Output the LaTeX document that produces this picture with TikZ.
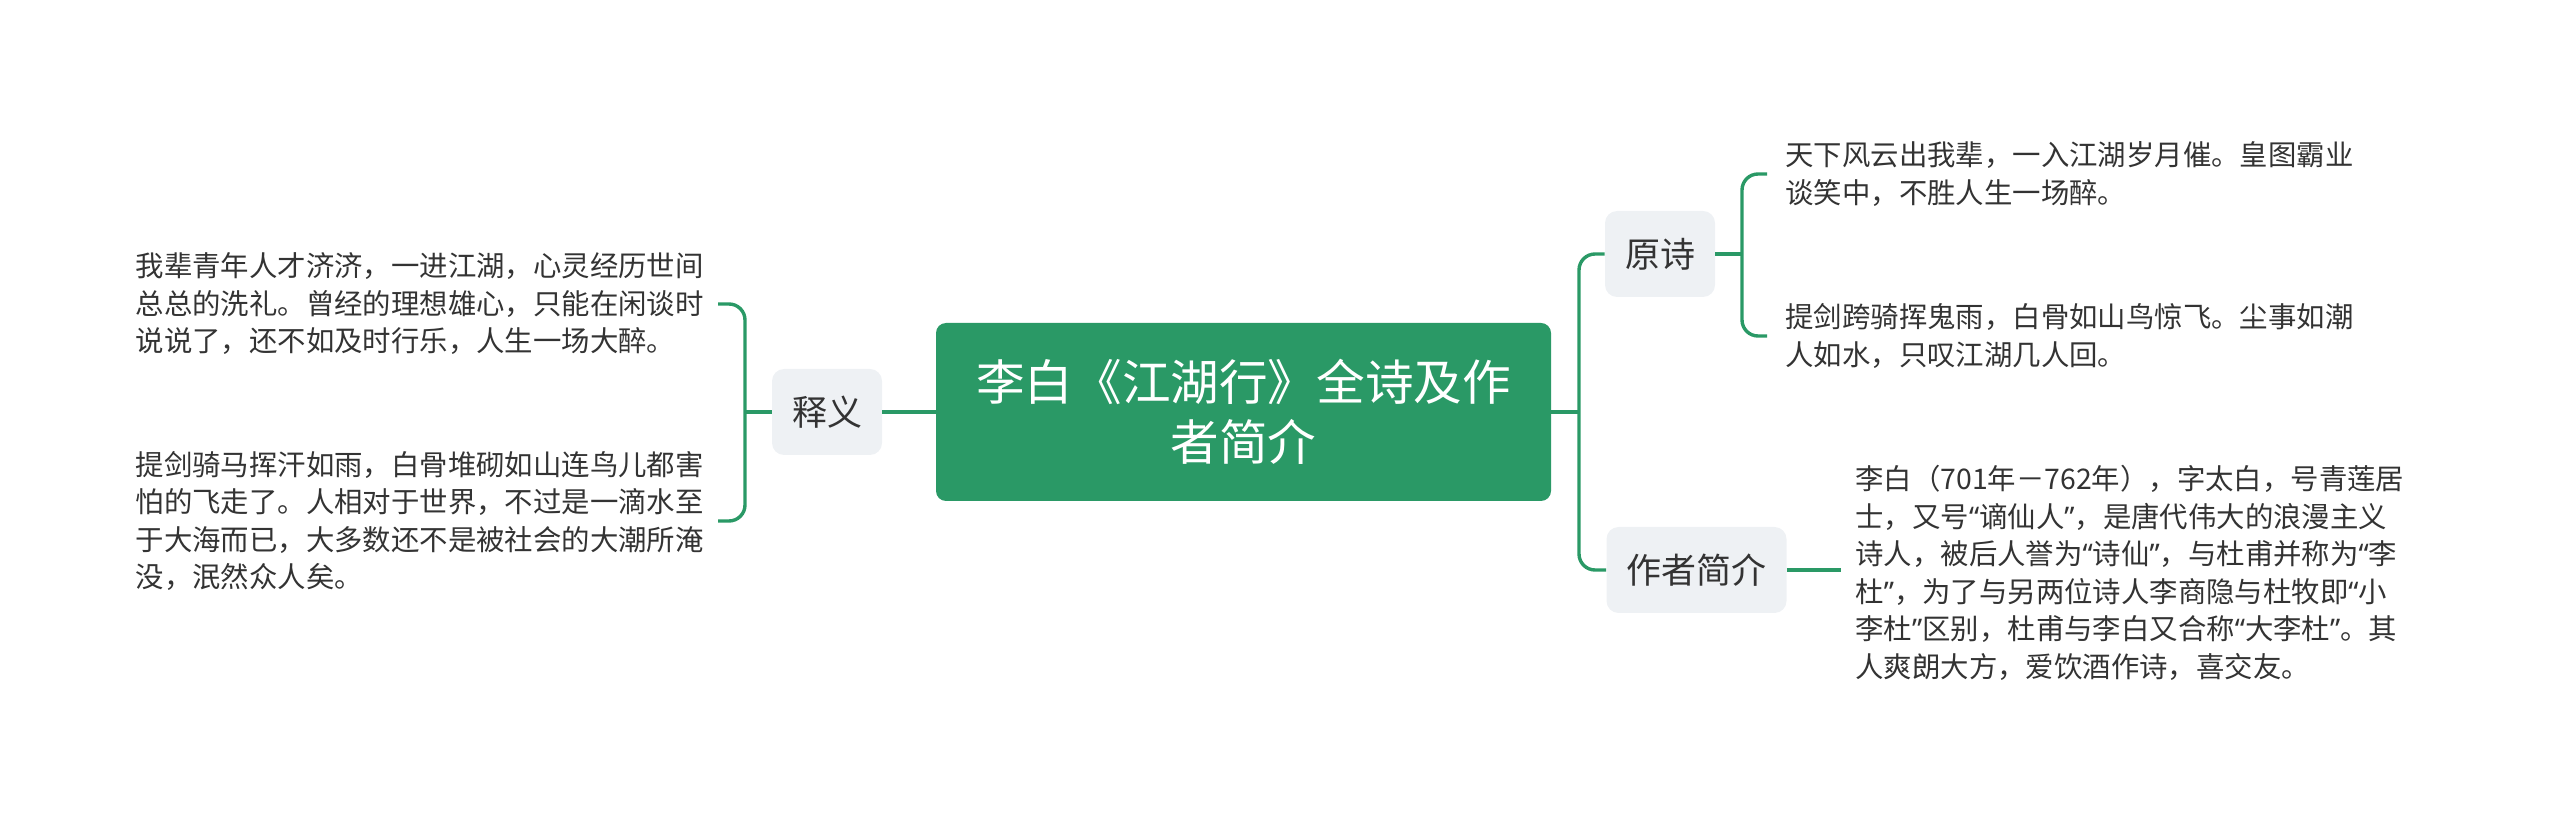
\documentclass[tikz,border=0pt]{standalone}
\usepackage{xcolor}
\usepackage{fontspec}
\setmainfont{Noto Sans CJK SC}
\newfontfamily\quotefont{Noto Sans}
\newcommand{\oq}{{\quotefont “}}
\newcommand{\cq}{{\quotefont ”}}
\usepackage{tikz}
\usetikzlibrary{shapes,arrows.meta,positioning}

\definecolor{mapgreen}{HTML}{2A9966}
\definecolor{topicgray}{HTML}{EEF1F4}
\definecolor{leafink}{HTML}{333333}

\begin{document}
\begin{tikzpicture}[x=0.5pt, y=-0.5pt, % one unit = one pixel of the slide
        link/.style={draw=mapgreen, line width=1.7pt},
        bracketlink/.style={link, rounded corners=8pt},
        topic/.style={fill=topicgray, rounded corners=6pt, text=leafink,
            font=\fontsize{17.5}{21}\selectfont, inner xsep=10pt, minimum height=43pt},
        leaf/.style={align=left, text=leafink, font=\fontsize{14.2}{18.75}\selectfont,
            inner xsep=7pt, inner ysep=0pt}]
        \useasboundingbox (0,0) rectangle (2560,817);

        % Central topic
        \node[fill=mapgreen, rounded corners=5pt, text=white, align=center,
            font=\fontsize{24.3}{30}\selectfont, minimum width=307.5pt, minimum height=89pt]
            (title) at (1243.5,412) {李白《江湖行》全诗及作\\者简介};

        % Main branches
        \node[topic] (shiyi) at (827,412) {释义};
        \node[topic] (yuanshi) at (1660,254) {原诗};
        \node[topic] (zuozhe) at (1696.5,570) {作者简介};

        % Leaves on the left
        \node[leaf, anchor=east] (shiyi1) at (718,304)
            {我辈青年人才济济，一进江湖，心灵经历世间\\总总的洗礼。曾经的理想雄心，只能在闲谈时\\说说了，还不如及时行乐，人生一场大醉。};
        \node[leaf, anchor=east] (shiyi2) at (718,521)
            {提剑骑马挥汗如雨，白骨堆砌如山连鸟儿都害\\怕的飞走了。人相对于世界，不过是一滴水至\\于大海而已，大多数还不是被社会的大潮所淹\\没，泯然众人矣。};

        % Leaves on the right
        \node[leaf, anchor=west, inner xsep=9pt] (shi1) at (1767,174)
            {天下风云出我辈，一入江湖岁月催。皇图霸业\\谈笑中，不胜人生一场醉。};
        \node[leaf, anchor=west, inner xsep=9pt] (shi2) at (1767,336)
            {提剑跨骑挥鬼雨，白骨如山鸟惊飞。尘事如潮\\人如水，只叹江湖几人回。};
        \node[leaf, anchor=west] (libai) at (1841,573)
            {李白（701年－762年），字太白，号青莲居\\士，又号\oq 谪仙人\cq ，是唐代伟大的浪漫主义\\诗人，被后人誉为\oq 诗仙\cq ，与杜甫并称为\oq 李\\杜\cq ，为了与另两位诗人李商隐与杜牧即\oq 小\\李杜\cq 区别，杜甫与李白又合称\oq 大李杜\cq 。其\\人爽朗大方，爱饮酒作诗，喜交友。};

        % Trunk points of the brackets
        \coordinate (ltrunk) at (745,412);
        \coordinate (rtrunk) at (1579,412);
        \coordinate (ptrunk) at (1742,254);

        % Connectors
        \draw[link] (title.west) -- (shiyi.east);
        \draw[link] (shiyi.west) -- (ltrunk);
        \draw[bracketlink] (shiyi1.east) -| (ltrunk) |- (shiyi2.east);
        \draw[link] (title.east) -- (rtrunk);
        \draw[bracketlink] (yuanshi.west) -| (rtrunk) |- (zuozhe.west);
        \draw[link] (yuanshi.east) -- (ptrunk);
        \draw[bracketlink] (shi1.west) -| (ptrunk) |- (shi2.west);
        \draw[link] (zuozhe.east) -- (zuozhe.east -| libai.west);
    \end{tikzpicture}
\end{document}
